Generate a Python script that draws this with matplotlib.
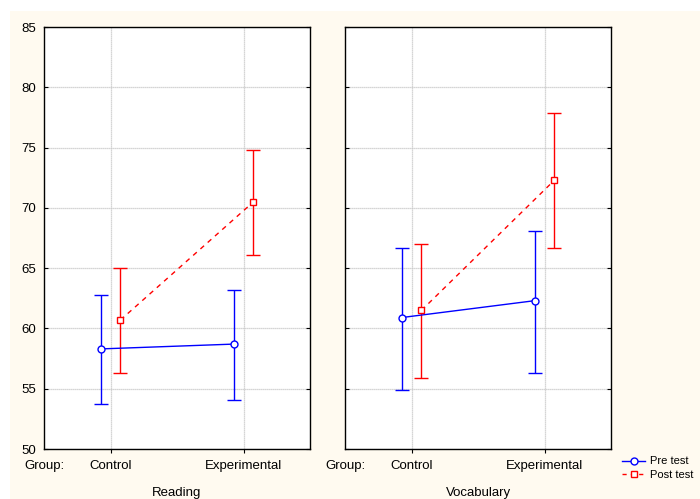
import numpy as np
import matplotlib
matplotlib.use('Agg')
from matplotlib import pyplot as plt
from matplotlib.patches import Rectangle
from matplotlib.lines import Line2D

plt.rcParams['font.family'] = ['Liberation Sans', 'DejaVu Sans']

# данные
groups = ['Control', 'Experimental']
panels = ['Reading', 'Vocabulary']

pre_mean = [[58.3, 58.7], [60.9, 62.3]]
pre_low = [[53.7, 54.1], [54.9, 56.3]]
pre_high = [[62.8, 63.2], [66.7, 68.1]]

post_mean = [[60.7, 70.5], [61.5, 72.3]]
post_low = [[56.3, 66.1], [55.9, 66.7]]
post_high = [[65.0, 74.8], [67.0, 77.9]]

yticks = [50, 55, 60, 65, 70, 75, 80, 85]

fig = plt.figure(figsize=(7, 4.99), dpi=100, facecolor='white')
fig.patches.append(Rectangle((10 / 700, 0), 1, (499 - 11) / 499,
                             transform=fig.transFigure, facecolor='#FFFAF0',
                             edgecolor='none', zorder=-10))

lefts = [44 / 700, 345 / 700]
x = np.arange(len(groups))
off = 0.075

for i, name in enumerate(panels):
  ax = fig.add_axes([lefts[i], 50 / 499, 266 / 700, 422 / 499])
  ax.set_facecolor('white')
  ax.set_xlim(-0.5, 1.5)
  ax.set_ylim(50, 85)
  ax.set_yticks(yticks)
  ax.set_xticks(x)
  ax.grid(True, color='#C8C8C8', lw=0.9, ls=(0, (1, 0.6)))
  ax.set_axisbelow(True)
  for s in ax.spines.values():
    s.set_linewidth(1.0)
    s.set_color('black')
  ax.tick_params(axis='y', direction='in', length=3, left=True, right=True,
                 labelsize=9.5, pad=6, labelleft=(i == 0))
  ax.tick_params(axis='x', direction='out', length=3, top=False,
                 labelbottom=False)

  pm = np.array(pre_mean[i])
  ax.errorbar(x - off, pm, yerr=[pm - np.array(pre_low[i]), np.array(pre_high[i]) - pm],
              color='#0000FF', lw=1.0, elinewidth=1.0, capsize=5, capthick=1.0,
              marker='o', ms=5, mfc='white', mec='#0000FF', mew=1.0, zorder=3)
  qm = np.array(post_mean[i])
  ax.errorbar(x + off, qm, yerr=[qm - np.array(post_low[i]), np.array(post_high[i]) - qm],
              color='#FF0000', lw=1.0, elinewidth=1.0, capsize=5, capthick=1.0,
              ls=(0, (3.5, 3.5)), marker='s', ms=5, mfc='white', mec='#FF0000', mew=1.0, zorder=3)

  for xi, g in zip(x, groups):
    ax.text(xi, -0.025, g, transform=ax.get_xaxis_transform(),
            ha='center', va='top', fontsize=9.5)
  ax.text(0.0, -0.025, 'Group:', transform=ax.transAxes,
          ha='center', va='top', fontsize=9.5)
  ax.text(0.5, -0.09, name, transform=ax.transAxes,
          ha='center', va='top', fontsize=9.5)

handles = [
    Line2D([], [], color='#0000FF', lw=1.0, marker='o', ms=5, mfc='white', mec='#0000FF'),
    Line2D([], [], color='#FF0000', lw=1.0, ls=(0, (3, 3)), marker='s', ms=5, mfc='white', mec='#FF0000'),
]
fig.legend(handles, ['Pre test', 'Post test'], loc='upper left',
           bbox_to_anchor=(618 / 700, 1 - 452 / 499), frameon=False,
           fontsize=8, handlelength=2.0, handletextpad=0.5, labelspacing=0.35,
           borderaxespad=0)

fig.savefig('out.png', dpi=100, facecolor=fig.get_facecolor())
